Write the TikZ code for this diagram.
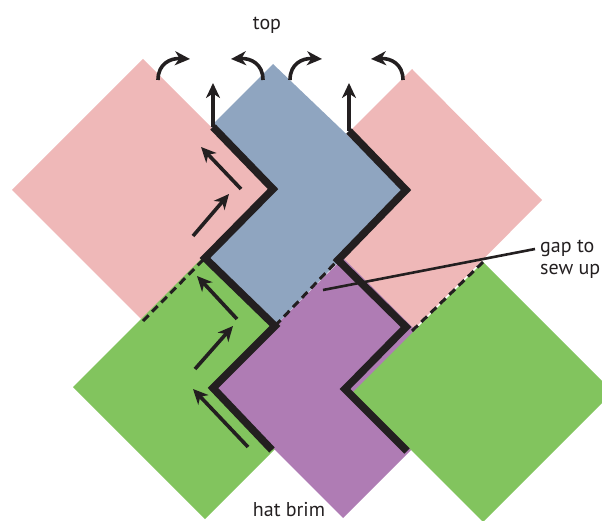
\documentclass[tikz,border=0pt]{standalone}
\usepackage{fontspec}
\setmainfont{PT Sans}
\usepackage{xcolor}
\usetikzlibrary{arrows.meta}

\definecolor{patchpink}{RGB}{239,184,184}
\definecolor{patchblue}{RGB}{143,165,192}
\definecolor{patchgreen}{RGB}{130,196,94}
\definecolor{patchpurple}{RGB}{175,124,180}
\definecolor{inkblack}{RGB}{35,31,32}

\begin{document}
\begin{tikzpicture}[x=1pt,y=-1pt,
    seam/.style={inkblack, line width=7.5pt},
    opengap/.style={inkblack, line width=3pt, dash pattern=on 8pt off 5pt},
    flip/.style={inkblack, line width=3.6pt, -{Stealth[length=15pt,width=14pt,inset=4.5pt]}},
    pointer/.style={inkblack, line width=2.6pt},
    notetext/.style={text=inkblack, font=\fontsize{20}{22}\selectfont, inner sep=0pt}]
    % Setup
    \useasboundingbox (0,0) rectangle (602,521);
    \clip (0,0) rectangle (602,521);

    % Top row of squares (blue under left pink, over right pink)
    \fill[patchpink] (412,69) -- (542,200) -- (412,331) -- (281,200) -- cycle;
    \fill[patchblue] (273,64) -- (407,192) -- (274,327) -- (142,195) -- cycle;
    \fill[patchpink] (143,59) -- (274,190) -- (143,321) -- (12,190) -- cycle;

    % Bottom row of squares
    \fill[patchgreen] (205,255) -- (337,387) -- (205,519) -- (73,387) -- cycle;
    \fill[patchpurple] (343,258) -- (473,388) -- (343,518) -- (213,388) -- cycle;
    \fill[patchgreen] (483,262) -- (613,392) -- (483,522) -- (353,392) -- cycle;

    % Sewn seams (zigzag)
    \draw[seam] (213,127) -- (273,189) -- (205,258) -- (275,326) -- (213,388) -- (272,450);
    \draw[seam] (349,131) -- (406,190) -- (338,260) -- (406,327) -- (345,389) -- (407,451);

    % Open edges (dashed)
    \draw[opengap] (143,321) -- (205,258);
    \draw[opengap] (275,326) -- (338,260);
    \draw[opengap] (412,331) -- (483,262);

    % Sewing direction along the left seam
    \foreach \xa/\ya/\xb/\yb in {241/189/201/147, 193/236/229/194, 237/319/197/276,
                                 195/369/233/326, 248/447/193/389} {
        \draw[flip] (\xa,\ya) -- (\xb,\yb);
    }

    % Seams run on up to the top
    \draw[flip] (213,127) -- (213,83);
    \draw[flip] (349,131) -- (349,83);

    % Corners turned over
    \foreach \x/\d in {158/1, 263/-1, 290/1, 403/-1} {
        \draw[flip] (\x,80) .. controls (\x,64) and (\x+12*\d,58) .. (\x+32*\d,59);
    }

    % Labels
    \node[notetext, anchor=base] (toplabel) at (267,30) {top};
    \node[notetext, anchor=base] (brimlabel) at (289,516) {hat brim};
    \node[notetext, anchor=base west] (gaplabel) at (540,253) {gap to};
    \node[notetext, anchor=base west] (sewlabel) at (540,274) {sew up};
    \coordinate (gappoint) at (323,290);
    \draw[pointer] (gappoint) -- ([xshift=-5pt,yshift=4pt]gaplabel.base west);
\end{tikzpicture}
\end{document}
